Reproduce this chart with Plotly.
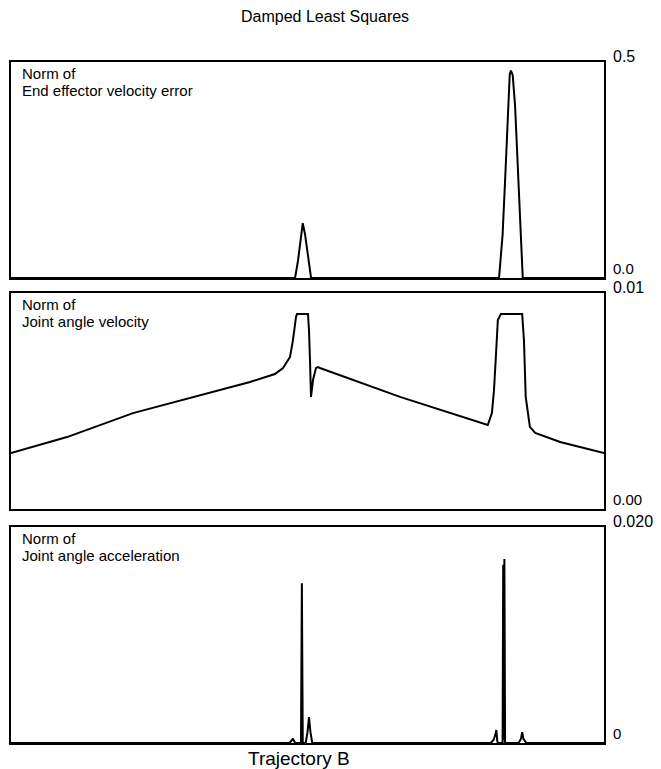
import plotly.graph_objects as go

# ---------------- data (trajectory position 0..100) ----------------
title_text = "Damped Least Squares"
xlabel_text = "Trajectory B"

panel_titles = [
    ["Norm of", "End effector velocity error"],
    ["Norm of", "Joint angle velocity"],
    ["Norm of", "Joint angle acceleration"],
]
y_ranges = [[0, 0.5], [0, 0.01], [0, 0.02]]
top_tick_labels = ["0.5", "0.01", "0.020"]
bottom_tick_labels = ["0.0", "0.00", "0"]

# Panel 1: end effector velocity error
err_t = [0, 47.9, 48.4, 48.8, 49.2, 49.6, 50.1, 50.6,
         82.3, 82.9, 83.4, 83.8, 84.1, 84.3, 84.6, 85.0, 85.5, 85.9, 86.3, 100]
err_v = [0, 0, 0.04, 0.09, 0.127, 0.10, 0.05, 0,
         0, 0.10, 0.25, 0.40, 0.47, 0.48, 0.47, 0.40, 0.25, 0.10, 0, 0]

# Panel 2: joint angle velocity
vel_t = [0, 9.44, 20.57, 31.87, 40.30, 44.5, 45.87, 47.05, 47.55, 48.06, 48.23, 50.08,
         50.25, 50.42, 50.59, 50.93, 51.43, 51.77, 52.10, 65.6, 74.2, 79.5, 80.4,
         81.1, 81.45, 81.8, 82.1, 82.6, 86.2, 86.5, 86.8, 87.5, 88.4, 92.6, 100]
vel_v = [0.00259, 0.00333, 0.00444, 0.00528, 0.00588, 0.00625, 0.00653, 0.00704, 0.00782,
         0.00889, 0.00903, 0.00903, 0.00829, 0.0069, 0.00519, 0.00597, 0.00653,
         0.00657, 0.00653, 0.00519, 0.00444, 0.00395, 0.00389, 0.00444, 0.00551,
         0.00722, 0.00875, 0.00903, 0.00903, 0.00782, 0.00519, 0.0038, 0.00352,
         0.0031, 0.00259]

# Panel 3: joint angle acceleration
acc_t = [0, 46.9, 47.3, 47.55, 47.8, 48.0, 48.9, 49.05, 49.2,
         49.7, 50.0, 50.25, 50.5, 50.8,
         80.9, 81.4, 81.7, 81.85, 82.0, 82.1, 82.9, 83.0, 83.08, 83.2, 83.32,
         85.6, 86.0, 86.2, 86.4, 86.9, 100]
acc_v = [0, 0, 0.0002, 0.0004, 0.0001, 0, 0, 0.0148, 0,
         0, 0.0010, 0.0024, 0.0010, 0,
         0, 0.0003, 0.0008, 0.0012, 0.0002, 0, 0, 0.0165, 0.0003, 0.01704, 0,
         0, 0.0004, 0.0010, 0.0004, 0, 0]

series = [(err_t, err_v), (vel_t, vel_v), (acc_t, acc_v)]

# ---------------- figure ----------------
W, H = 661, 769
m_l, m_t = 11, 62
m_r = W - 604
m_b = H - 743
plot_w = W - m_l - m_r
plot_h = H - m_t - m_b
panels_px = [(62, 278), (293, 509), (527, 743)]  # page pixel (top, bottom)
domains = [[(743 - b) / plot_h, (743 - t) / plot_h] for t, b in panels_px]


def px_x(px):
    return (px - m_l) / plot_w


def px_y(py):
    return (743 - py) / plot_h


font_family = "Liberation Sans, Arial, sans-serif"
fig = go.Figure()
layout = dict(
    width=W, height=H,
    margin=dict(l=m_l, r=m_r, t=m_t, b=m_b),
    paper_bgcolor="white", plot_bgcolor="white",
    showlegend=False,
    font=dict(family=font_family, color="black", size=15),
)
annotations = []
for i, ((tx, vy), dom) in enumerate(zip(series, domains)):
    sfx = "" if i == 0 else str(i + 1)
    fig.add_trace(go.Scatter(x=tx, y=vy, mode="lines",
                             line=dict(color="black", width=2),
                             xaxis="x" + sfx, yaxis="y" + sfx,
                             hoverinfo="skip"))
    layout["xaxis" + sfx] = dict(domain=[0, 1], range=[0, 100], anchor="y" + sfx,
                                 showline=True, mirror=True, linecolor="black",
                                 linewidth=2, showgrid=False, zeroline=False,
                                 showticklabels=False, ticks="")
    layout["yaxis" + sfx] = dict(domain=dom, range=y_ranges[i], anchor="x" + sfx,
                                 showline=True, mirror=True, linecolor="black",
                                 linewidth=2, showgrid=False, zeroline=False,
                                 showticklabels=False, ticks="")
    ydom = "y" + sfx + " domain"
    for j, line_text in enumerate(panel_titles[i]):
        annotations.append(dict(text=line_text, xref="paper", x=0, xshift=9,
                                yref=ydom, y=1, yshift=-(11 + 17 * j),
                                xanchor="left", yanchor="middle",
                                align="left", showarrow=False,
                                font=dict(size=15, family=font_family)))
    annotations.append(dict(text=top_tick_labels[i], xref="paper", x=1, xshift=7,
                            yref=ydom, y=1, yshift=-5, xanchor="left", yanchor="bottom",
                            showarrow=False, font=dict(size=16, family=font_family)))
    annotations.append(dict(text=bottom_tick_labels[i], xref="paper", x=1, xshift=7,
                            yref=ydom, y=0, yshift=-1, xanchor="left", yanchor="bottom",
                            showarrow=False, font=dict(size=15, family=font_family)))

annotations.append(dict(text=title_text, xref="paper", yref="paper",
                        x=px_x(325), y=px_y(17),
                        xanchor="center", yanchor="middle", showarrow=False,
                        font=dict(size=16, family=font_family)))
annotations.append(dict(text=xlabel_text, xref="paper", yref="paper",
                        x=px_x(299), y=px_y(758),
                        xanchor="center", yanchor="middle", showarrow=False,
                        font=dict(size=19, family=font_family)))
layout["annotations"] = annotations
fig.update_layout(**layout)
fig.write_html("out.html",
               config={"displayModeBar": False},
               post_script="document.body.style.margin='0px';"
                           "document.body.style.overflow='hidden';")
